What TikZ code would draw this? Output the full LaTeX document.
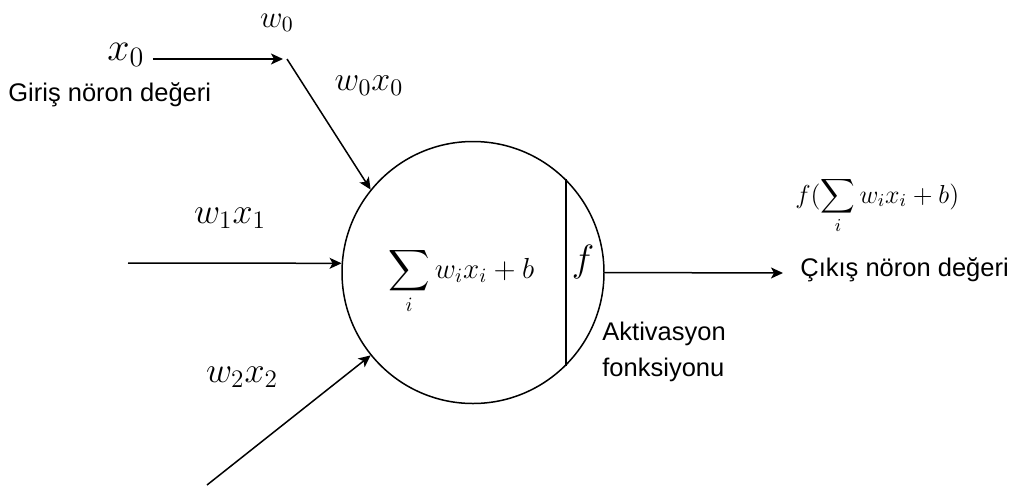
\documentclass[tikz,border=0pt]{standalone}
\usepackage{fix-cm}
\usepackage{exscale}
\usepackage{fontspec}
\newfontfamily\labelfont{Liberation Sans}
\usetikzlibrary{arrows.meta}

\begin{document}
\begin{tikzpicture}[
    x=0.5pt, y=-0.5pt,
    neuron/.style={draw, circle, minimum size=131pt, inner sep=0pt, line width=0.75pt},
    link/.style={-{Stealth[length=6pt, width=5.5pt, inset=1.5pt]}, line width=0.75pt},
    wire/.style={line width=0.75pt},
    txt/.style={inner sep=0pt, font={\labelfont\fontsize{12.75}{18}\selectfont}},
    eq/.style={inner sep=0pt}
]
\useasboundingbox (0,0) rectangle (1019,488);

% neuron body
\node[neuron] (neuron) at (473,272.5) {};
\node[eq, anchor=base west, font=\fontsize{14.5}{17}\selectfont] (sum) at (388,278) {$\displaystyle\sum_i w_i x_i + b$};
\node[eq, anchor=base, font=\fontsize{19}{22}\selectfont] (act) at (583,271) {$f$};
\draw[wire] (neuron.45) -- (neuron.-45);

% inputs
\node[eq, anchor=base west, font=\fontsize{20}{24}\selectfont] (x0) at (107,60) {$x_0$};
\node[txt, anchor=base west] (giris) at (8,101) {Giriş nöron değeri};
\node[eq, anchor=base, font=\fontsize{15.5}{18}\selectfont] (w0) at (277,27) {$w_0$};
\node[eq, anchor=base, font=\fontsize{17}{20}\selectfont] (w0x0) at (369,90) {$w_0x_0$};
\node[eq, anchor=base, font=\fontsize{18}{21}\selectfont] (w1x1) at (230,223) {$w_1x_1$};
\node[eq, anchor=base, font=\fontsize{18}{21}\selectfont] (w2x2) at (242,382) {$w_2x_2$};
\coordinate (joint) at (287,59);
\coordinate (in1) at (128,263);
\coordinate (in2) at (207,485);

\draw[link, shorten <=4pt, shorten >=2pt] (x0.east |- joint) -- (joint);
\draw[link] (joint) -- (neuron.141);
\draw[link] (in1) -- (neuron.176);
\draw[link] (in2) -- (neuron.219);

% output
\coordinate (out) at (783,273);
\draw[link] (neuron.east) -- (out);
\node[eq, anchor=base west, font=\fontsize{13}{16}\selectfont] (fout) at (795,203) {$f(\displaystyle\sum_i w_i x_i + b)$};
\node[txt, anchor=base west] (cikis) at (800,276) {Çıkış nöron değeri};
\node[txt, anchor=north west, align=left] (aktiv) at (602,322) {Aktivasyon\\fonksiyonu};
\end{tikzpicture}
\end{document}
